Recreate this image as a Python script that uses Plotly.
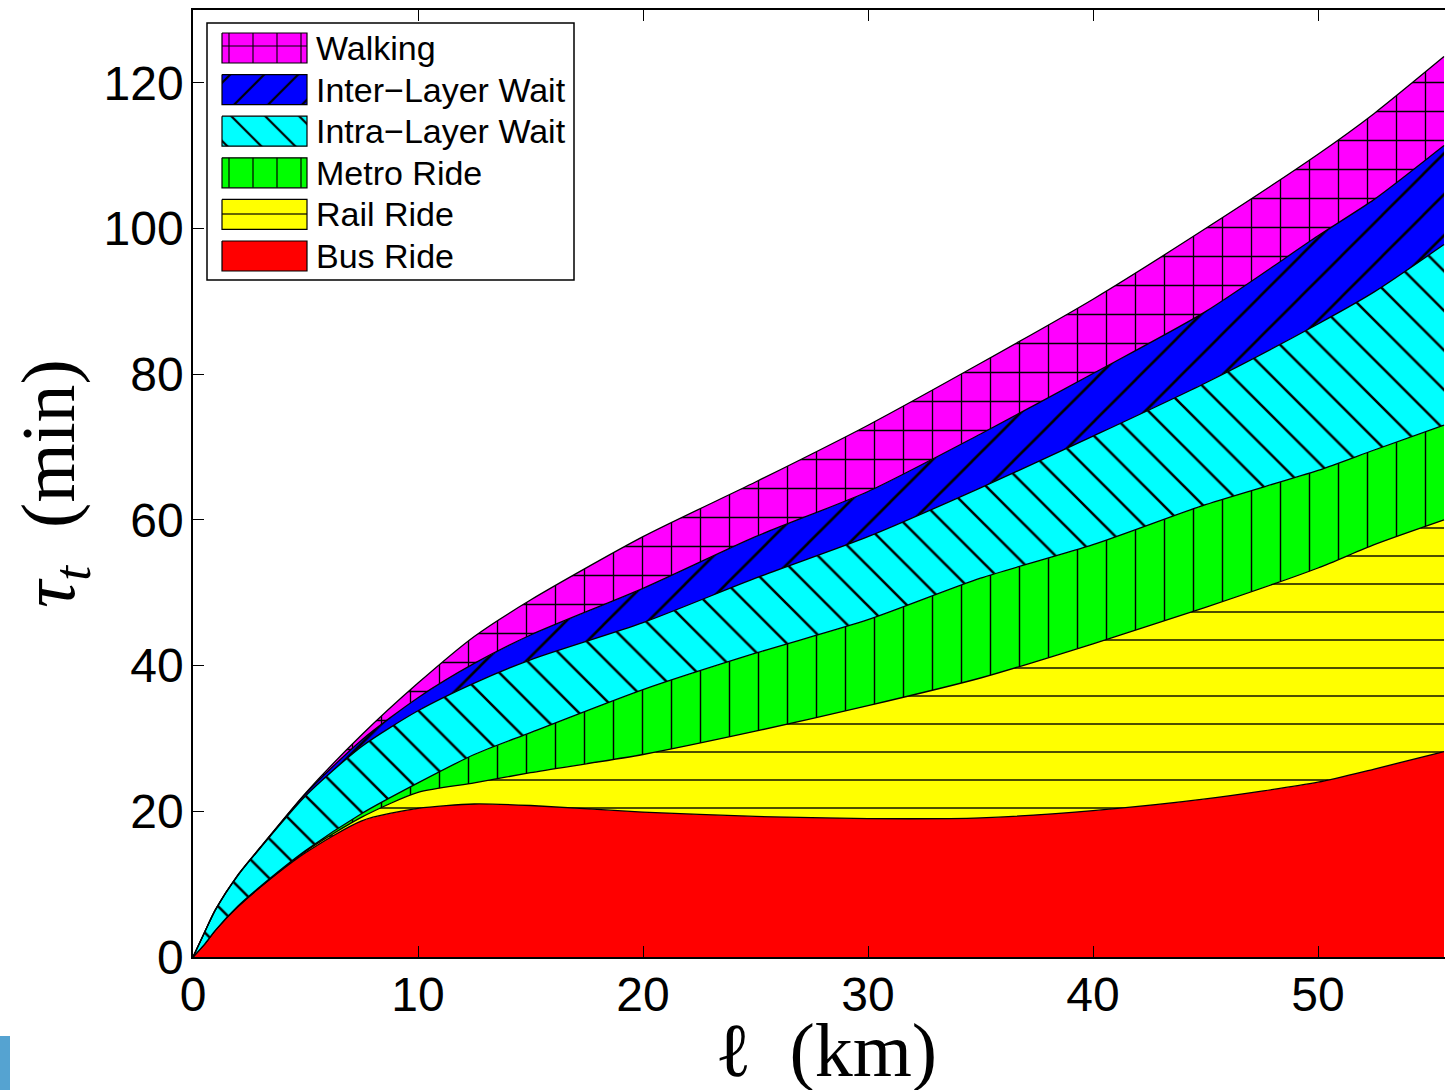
import plotly.graph_objects as go

# Door-to-door travel time broken down by component, as a function of trip length
distance_km = [0, 0.5, 1, 2, 3, 5, 7.5, 10, 12.5, 15, 20, 25, 30, 35, 40, 45, 50, 52.5, 55.6]
bus_ride = [0, 1.7, 3.7, 6.9, 9.6, 14.3, 18.7, 20.4, 21.0, 20.8, 19.9, 19.3, 19.0, 19.1, 20.1, 21.7, 24.0, 25.8, 28.2]
rail_ride = [0, 0, 0, 0.05, 0.05, 0.2, 0.5, 2.2, 2.9, 4.5, 7.9, 11.7, 15.5, 19.2, 22.9, 26.3, 29.4, 30.8, 31.8]
metro_ride = [0, 0, 0, 0.05, 0.05, 0.1, 0.5, 1.3, 3.9, 5.5, 8.9, 10.7, 11.8, 13.7, 13.6, 14.1, 13.4, 13.0, 13.0]
intra_layer_wait = [0, 1.6, 2.8, 4.2, 5.3, 7.5, 9.2, 9.9, 9.8, 10.0, 9.2, 10.3, 11.4, 12.4, 14.9, 16.7, 20.1, 21.7, 24.8]
inter_layer_wait = [0, 0, 0, 0.05, 0.05, 0.3, 0.9, 1.8, 2.7, 3.4, 4.7, 5.7, 6.2, 7.4, 8.6, 9.8, 12.1, 12.7, 13.6]
walking = [0, 0, 0, 0.05, 0.05, 0.1, 0.7, 2.0, 3.7, 4.8, 7.1, 7.5, 9.1, 9.7, 10.2, 11.4, 11.2, 11.8, 12.2]

x_ticks = [0, 10, 20, 30, 40, 50]
y_ticks = [0, 20, 40, 60, 80, 100, 120]

# name, values, fill colour, hatch shape, hatch spacing, hatch solidity (bottom to top)
layers = [
    ("Bus Ride", bus_ride, "#ff0000", "", 29, 0.0),
    ("Rail Ride", rail_ride, "#ffff00", "-", 28, 0.05),
    ("Metro Ride", metro_ride, "#00ff00", "|", 29, 0.05),
    ("Intra\u2212Layer Wait", intra_layer_wait, "#00ffff", "\\", 28, 0.09),
    ("Inter\u2212Layer Wait", inter_layer_wait, "#0000ff", "/", 29, 0.09),
    ("Walking", walking, "#ff00ff", "+", 29, 0.09),
]

W, H = 1445, 1090
ML, MR, MT, MB = 193, 0, 10, 133
PW, PH = W - ML - MR, H - MT - MB

TICK_FONT = dict(family="Liberation Sans, Arial, Helvetica, sans-serif", size=48, color="black")
TITLE_FONT = dict(family="Liberation Serif, Times New Roman, serif", size=76, color="black")


def pattern(color, shape, size, solidity):
    if not shape:
        return None
    return dict(shape=shape, fgcolor="black", bgcolor=color, size=size,
                solidity=solidity, fillmode="replace")


fig = go.Figure()

for name, vals, color, shape, size, sol in layers:
    fig.add_trace(go.Scatter(
        x=distance_km, y=vals, name=name, mode="lines",
        stackgroup="travel",
        line=dict(color="black", width=1.3, shape="spline", smoothing=0.7),
        fillcolor=color, fillpattern=pattern(color, shape, size, sol),
        showlegend=False, hoverinfo="skip",
    ))

# Legend drawn on a pixel-unit overlay so that the swatches can carry the hatching
box_x0, box_x1, box_y0, box_y1 = 14, 381, 13, 270
sw_x0, sw_x1, sw_h = 29, 114, 30
row0, pitch = 38, 41.6
text_x = 121

for i, (name, vals, color, shape, size, sol) in enumerate(reversed(layers)):
    cy = row0 + i * pitch
    fig.add_trace(go.Scatter(
        x=[sw_x0, sw_x1, sw_x1, sw_x0, sw_x0],
        y=[cy - sw_h / 2, cy - sw_h / 2, cy + sw_h / 2, cy + sw_h / 2, cy - sw_h / 2],
        xaxis="x2", yaxis="y2", mode="lines", fill="toself",
        fillcolor=color, fillpattern=pattern(color, shape, 24 if shape else 29, sol),
        line=dict(color="black", width=1.2), showlegend=False, hoverinfo="skip",
    ))
    fig.add_annotation(
        x=text_x, y=cy, xref="x2", yref="y2", text=name, showarrow=False,
        xanchor="left", yanchor="middle",
        font=dict(family="Liberation Sans, Arial, Helvetica, sans-serif", size=34, color="black"),
    )

fig.add_shape(type="rect", xref="x2", yref="y2", x0=box_x0, x1=box_x1, y0=box_y0, y1=box_y1,
              line=dict(color="black", width=1.5), fillcolor="rgba(0,0,0,0)", layer="above")

# x-axis title, set just under the tick labels
fig.add_annotation(
    x=0.5, y=-(1050 - MT - PH) / PH, xref="paper", yref="paper",
    text="\u2113\u00a0\u00a0(km)", showarrow=False, xanchor="center", yanchor="middle",
    xshift=7, font=TITLE_FONT,
)

# small blue marker at the lower-left corner of the page
fig.add_shape(type="rect", xref="paper", yref="paper",
              x0=-ML / PW, x1=(10 - ML) / PW,
              y0=-(1090 - MT - PH) / PH, y1=-(1036 - MT - PH) / PH,
              line=dict(width=0), fillcolor="#55a3d1", layer="above")

fig.update_layout(
    width=W, height=H,
    margin=dict(l=ML, r=MR, t=MT, b=MB, pad=0),
    paper_bgcolor="white", plot_bgcolor="white",
    showlegend=False,
    xaxis=dict(
        range=[0, PW / 22.5], tickvals=x_ticks, ticktext=[str(v) for v in x_ticks],
        ticks="inside", ticklen=11, tickwidth=1, tickcolor="black",
        showline=True, linecolor="black", linewidth=1.5, mirror="allticks",
        showgrid=False, zeroline=False, tickfont=TICK_FONT, ticklabelstandoff=-5,
    ),
    yaxis=dict(
        range=[0, 130], tickvals=y_ticks, ticktext=[str(v) for v in y_ticks],
        ticks="inside", ticklen=11, tickwidth=1, tickcolor="black",
        showline=True, linecolor="black", linewidth=1.5, mirror=False,
        showgrid=False, zeroline=False, tickfont=TICK_FONT, ticklabelstandoff=-2,
        title=dict(text="<i>\u03c4</i><sub><i>t</i></sub>\u00a0\u00a0(min)", font=TITLE_FONT, standoff=4),
    ),
    xaxis2=dict(range=[0, PW], overlaying="x", anchor="y2", visible=False, fixedrange=True),
    yaxis2=dict(range=[PH, 0], overlaying="y", anchor="x2", visible=False, fixedrange=True),
)

fig.write_html("out.html")
